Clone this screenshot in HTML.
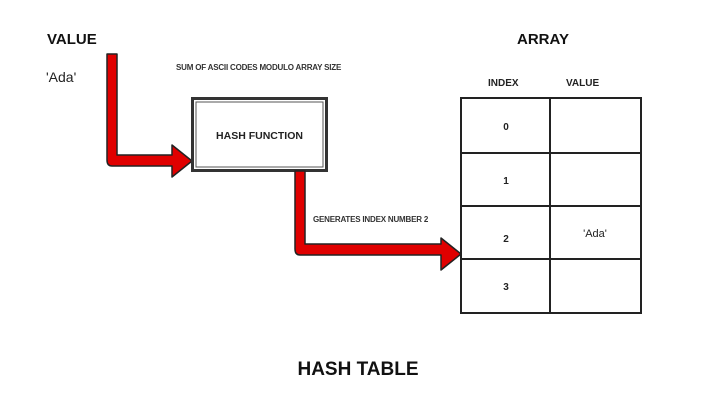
<!DOCTYPE html>
<html><head><style>body{margin:0;background:#fff}</style></head><body>
<svg width="720" height="403" xmlns="http://www.w3.org/2000/svg" font-family="Liberation Sans, Arial, sans-serif">
<rect width="720" height="403" fill="#fff"/>
<text x="47" y="44" font-size="15" font-weight="bold" fill="#111">VALUE</text>
<text x="46" y="82" font-size="14" fill="#222">'Ada'</text>
<text x="176" y="70" font-size="8" font-weight="bold" fill="#333" letter-spacing="-0.2">SUM OF ASCII CODES MODULO ARRAY SIZE</text>
<text x="517" y="44" font-size="15" font-weight="bold" fill="#111">ARRAY</text>
<text x="488" y="86" font-size="10" font-weight="bold" fill="#222">INDEX</text>
<text x="566" y="86" font-size="10" font-weight="bold" fill="#222">VALUE</text>
<!-- arrow 1 -->
<path d="M107,54 L117,54 L117,155 L172,155 L172,145 L192,161 L172,177 L172,166 L112,166 Q107,166 107,160 Z" fill="#e00000" stroke="#222" stroke-width="1.5" stroke-linejoin="round"/>
<!-- hash box -->
<rect x="192.5" y="98.5" width="134" height="72" fill="#fff" stroke="#333" stroke-width="3"/>
<rect x="196" y="102" width="127" height="65" fill="#fff" stroke="#555" stroke-width="1"/>
<text x="259.5" y="139" font-size="10.5" font-weight="bold" fill="#222" text-anchor="middle">HASH FUNCTION</text>
<!-- arrow 2 -->
<path d="M295,171 L305,171 L305,244 L441,244 L441,238 L461,254 L441,270 L441,255 L300,255 Q295,255 295,249 Z" fill="#e00000" stroke="#222" stroke-width="1.5" stroke-linejoin="round"/>
<text x="313" y="222" font-size="8" font-weight="bold" fill="#333" letter-spacing="-0.2">GENERATES INDEX NUMBER 2</text>
<!-- table -->
<g stroke="#222" stroke-width="2" fill="none">
<rect x="461" y="98" width="180" height="215"/>
<line x1="550" y1="98" x2="550" y2="313"/>
<line x1="461" y1="153" x2="641" y2="153"/>
<line x1="461" y1="206" x2="641" y2="206"/>
<line x1="461" y1="259" x2="641" y2="259"/>
</g>
<g font-size="10" font-weight="bold" fill="#222" text-anchor="middle">
<text x="506" y="130">0</text>
<text x="506" y="184">1</text>
<text x="506" y="242">2</text>
<text x="506" y="290">3</text>
<text x="595" y="237" font-weight="normal" font-size="11">'Ada'</text>
</g>
<text x="358" y="375" font-size="19" font-weight="bold" fill="#111" text-anchor="middle">HASH TABLE</text>
</svg>
</body></html>
